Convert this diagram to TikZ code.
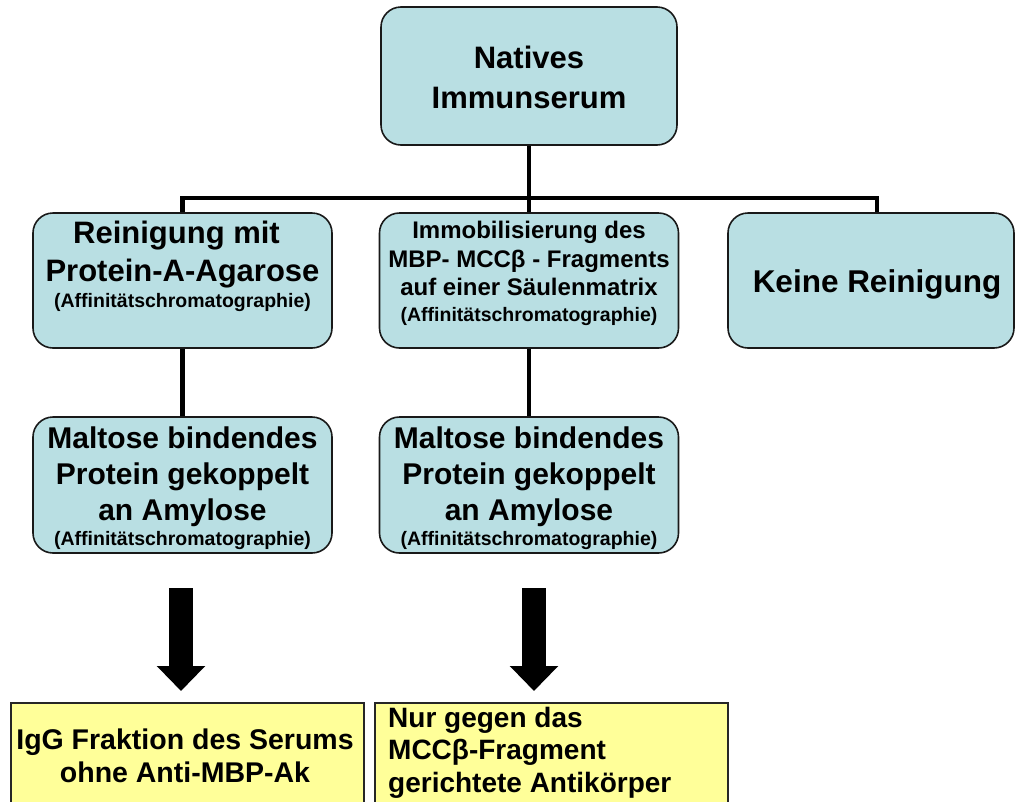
\documentclass[tikz,border=0pt]{standalone}
\usepackage{fontspec}
\setmainfont{Liberation Sans}
\usetikzlibrary{arrows.meta}
\definecolor{serumblue}{RGB}{185,223,227}
\definecolor{resultyellow}{RGB}{255,255,153}
\newcommand{\setfs}[2]{\fontsize{#1}{#2}\selectfont}
\newcommand{\affin}{{\setfs{19.5}{20}(Affinitätschromatographie)}}

\begin{document}
\begin{tikzpicture}[x=1pt, y=-1pt,
    box/.style={draw=black!90, line width=1.6pt, fill=serumblue, rounded corners=20pt,
        inner sep=0pt, minimum width=299pt, minimum height=135pt},
    result/.style={draw=black!85, line width=1.2pt, fill=resultyellow, inner sep=0pt,
        minimum width=353pt, minimum height=130pt},
    link/.style={line width=4.5pt},
    bigarrow/.style={line width=24pt, -{Triangle[length=25pt, width=47pt]}},
    boxtext/.style={font=\bfseries, align=center, inner sep=0pt, anchor=north}]
    \useasboundingbox (0,0) rectangle (1015,801);

    % Draw boxes
    \node[box, minimum width=296pt, minimum height=138pt] (native) at (529,76) {};
    \node[box] (protA) at (182.5,280.5) {};
    \node[box] (immo) at (529,280.5) {};
    \node[box, minimum width=286pt] (keine) at (871,280.5) {};
    \node[box, minimum height=136pt] (maltL) at (182.5,485) {};
    \node[box, minimum height=136pt] (maltM) at (529,485) {};
    \node[result] (igg) at (187.5,768) {};
    \node[result] (nur) at (551.5,768) {};

    % Add box texts
    \node[boxtext, font=\bfseries\setfs{31}{40}] (nativetxt) at (529,46) {Natives\\Immunserum};
    \node[boxtext, font=\bfseries\setfs{31}{38}] (protAtxt) at (182.5,221)
        {Reinigung mit\hspace*{12pt}\\Protein-A-Agarose\\[-12pt]\affin};
    \node[boxtext, font=\bfseries\setfs{24}{28.5}] (immotxt) at (529,221)
        {Immobilisierung des\\MBP- MCCβ - Fragments\\auf einer Säulenmatrix\\[-3pt]\affin};
    \node[boxtext, font=\bfseries\setfs{31.5}{30}, anchor=base] (keinetxt) at (877,292) {Keine Reinigung};
    \node[boxtext, font=\bfseries\setfs{30}{36}] (maltLtxt) at (182.5,427)
        {Maltose bindendes\\Protein gekoppelt\\an Amylose\\[-11pt]\affin};
    \node[boxtext, font=\bfseries\setfs{30}{36}] (maltMtxt) at (529,427)
        {Maltose bindendes\\Protein gekoppelt\\an Amylose\\[-11pt]\affin};
    \node[boxtext, font=\bfseries\setfs{28.5}{33}] (iggtxt) at (185,729)
        {IgG Fraktion des Serums\\ohne Anti-MBP-Ak};
    \node[boxtext, font=\bfseries\setfs{28}{32.5}, align=left, anchor=north west] (nurtxt) at (388,707)
        {Nur gegen das\\MCCβ-Fragment\\gerichtete Antikörper};

    % Draw connectors
    \coordinate (split) at (529,198);
    \coordinate (keinetop) at ([xshift=6pt]keine.north);
    \draw[link] (native.south) -- (split);
    \draw[link] (protA.north) |- (split) -| (keinetop);
    \draw[link] (split) -- (immo.north);
    \draw[link] (protA.south) -- (maltL.north);
    \draw[link] (immo.south) -- (maltM.north);

    % Draw big arrows
    \coordinate (arrLtop) at (181,588);
    \coordinate (arrLtip) at (181,691);
    \coordinate (arrMtop) at (534,588);
    \coordinate (arrMtip) at (534,691);
    \draw[bigarrow] (arrLtop) -- (arrLtip);
    \draw[bigarrow] (arrMtop) -- (arrMtip);
\end{tikzpicture}
\end{document}
